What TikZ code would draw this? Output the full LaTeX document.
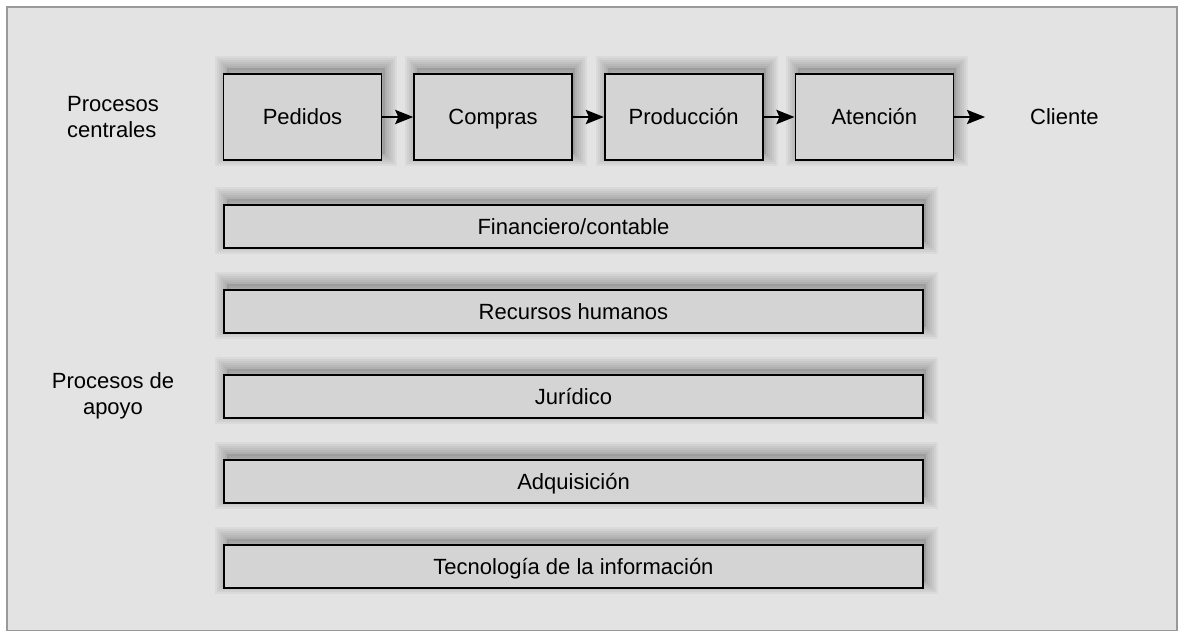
\documentclass[tikz,border=0pt]{standalone}
\usepackage{fontspec}
\setsansfont{Liberation Sans}
\usepackage{xcolor}
\usepackage{tikz}
\usetikzlibrary{positioning, arrows.meta}
\definecolor{fondogris}{RGB}{227,227,227}
\definecolor{cajagris}{RGB}{212,212,212}
\definecolor{marcogris}{RGB}{153,153,153}

\tikzset{
    sombracapa/.style={preaction={draw=black, opacity=0.04, line width=#1, rounded corners=2pt, transform canvas={xshift=1.5pt, yshift=3pt}}},
    sombra/.style={preaction={fill=black, opacity=0.10, transform canvas={xshift=1.5pt, yshift=3pt}},
        sombracapa=12pt, sombracapa=10pt, sombracapa=8pt, sombracapa=6pt, sombracapa=4pt, sombracapa=2pt}
}

\begin{document}
\begin{tikzpicture}[
        x=0.5pt, y=-0.5pt,
        every node/.style={font=\sffamily\fontsize{11}{13}\selectfont},
        proceso/.style={rectangle, draw=black, fill=cajagris, line width=0.8pt, minimum width=79pt, minimum height=43.2pt, text height=8pt, text depth=0.3pt, sombra},
        apoyo/.style={proceso, minimum width=349.7pt, minimum height=21.7pt},
        etiqueta/.style={align=left},
        flecha/.style={-{Stealth[length=9pt, width=7pt, inset=1.5pt]}, line width=1.4pt}
    ]
        % Frame
        \useasboundingbox (0,0) rectangle (1178,631);
        \draw[marcogris, fill=fondogris, line width=1pt] (7,7) rectangle (1176.5,630.5);

        % Core processes
        \node[proceso] (pedidos) at (302.5,117) {Pedidos};
        \node[proceso, right=15.5pt of pedidos] (compras) {Compras};
        \node[proceso, right=15.5pt of compras] (produccion) {Producción};
        \node[proceso, right=15.5pt of produccion] (atencion) {Atención};
        \coordinate[right=15.5pt of atencion] (salida);
        \node[right=19pt of salida] (cliente) {Cliente};

        % Support processes
        \node[apoyo] (financiero) at (573.5,226.5) {Financiero/contable};
        \node[apoyo, below=20pt of financiero] (rrhh) {Recursos humanos};
        \node[apoyo, below=20pt of rrhh] (juridico) {Jurídico};
        \node[apoyo, below=20pt of juridico] (adquisicion) {Adquisición};
        \node[apoyo, below=20pt of adquisicion] (tecnologia) {Tecnología de la información};

        % Labels
        \node[etiqueta] (centrales) at (113,117) {Procesos\\centrales};
        \node[align=center] (soporte) at (113,396) {Procesos de\\apoyo};

        % Connections
        \draw[flecha] (pedidos) -- (compras);
        \draw[flecha] (compras) -- (produccion);
        \draw[flecha] (produccion) -- (atencion);
        \draw[flecha] (atencion) -- (salida);

    \end{tikzpicture}
\end{document}
